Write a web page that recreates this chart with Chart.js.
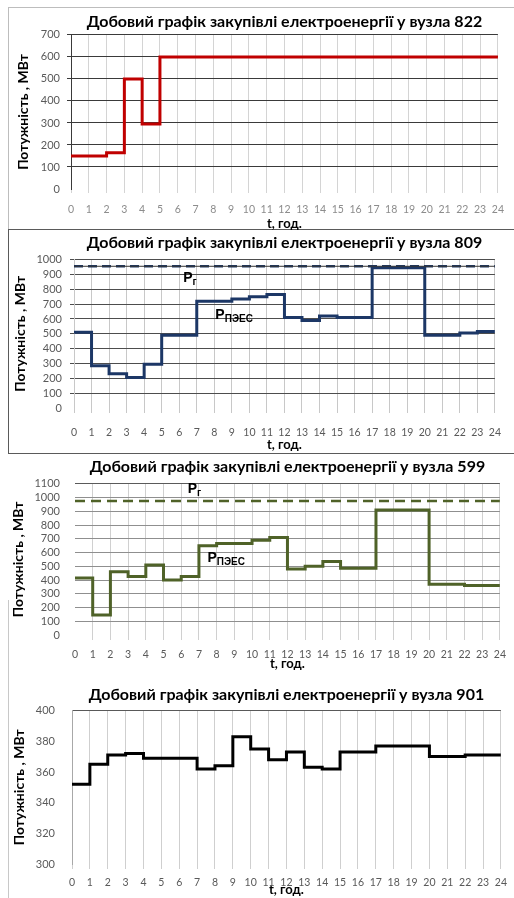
<!DOCTYPE html>
<html>
<head>
<meta charset="utf-8">
<script src="https://cdn.jsdelivr.net/npm/chart.js@4.4.1/dist/chart.umd.min.js"></script>
<style>
  body { margin: 0; background: #fff; width: 514px; height: 898px; position: relative; overflow: hidden; }
  canvas { position: absolute; left: 0; }
  .box { position: absolute; box-sizing: border-box; }
</style>
</head>
<body>
<div class="box" style="left:8px;top:7px;width:512px;height:223px;border:1px solid #bdbdbd;"></div>
<div class="box" style="left:8px;top:229px;width:512px;height:225px;border:1px solid #5a5a5a;"></div>
<div class="box" style="left:8px;top:600px;width:2px;height:298px;border-left:1px solid #c8c8c8;"></div>

<canvas id="c822" width="514" height="232" style="top:0px"></canvas>
<canvas id="c809" width="514" height="224" style="top:229px"></canvas>
<canvas id="c599" width="514" height="218" style="top:455px"></canvas>
<canvas id="c901" width="514" height="223" style="top:675px"></canvas>

<script>
// hours on the x axis, values are for each hour interval [h, h+1)
var hours = [0, 1, 2, 3, 4, 5, 6, 7, 8, 9, 10, 11, 12, 13, 14, 15, 16, 17, 18, 19, 20, 21, 22, 23, 24];

var v822 = [150, 150, 165, 500, 295, 600, 600, 600, 600, 600, 600, 600,
            600, 600, 600, 600, 600, 600, 600, 600, 600, 600, 600, 600];

var v809 = [510, 285, 230, 205, 295, 490, 490, 720, 720, 735, 750, 765,
            610, 590, 620, 610, 610, 945, 945, 945, 490, 490, 505, 515];
var pr809 = 955;

var v599 = [415, 145, 460, 425, 510, 400, 425, 650, 665, 665, 690, 710,
            480, 500, 535, 485, 485, 910, 910, 910, 370, 370, 360, 360];
var pr599 = 975;

var v901 = [352, 365, 371, 372, 369, 369, 369, 362, 364, 383, 375, 368,
            373, 363, 362, 373, 373, 377, 377, 377, 370, 370, 371, 371];

var yTitle = "Потужність , МВт";
var xTitle = "t, год.";

Chart.defaults.font.family = "Lato, 'Liberation Sans', sans-serif";
Chart.defaults.animation = false;

function stepPoints(vals) {
  var pts = vals.map(function (v, i) {
    return { x: hours[i], y: v };
  });
  pts.push({ x: hours[hours.length - 1], y: vals[vals.length - 1] });
  return pts;
}

function flatLine(v) {
  return [{ x: hours[0], y: v }, { x: hours[hours.length - 1], y: v }];
}

// P labels drawn next to the lines
function pLabels(items) {
  return {
    id: "plabels",
    afterDatasetsDraw: function (chart) {
      var ctx = chart.ctx;
      items.forEach(function (it) {
        var x = chart.scales.x.getPixelForValue(it.x);
        var y = chart.scales.y.getPixelForValue(it.y);
        ctx.save();
        ctx.fillStyle = "#000";
        ctx.textBaseline = "middle";
        ctx.font = "bold 14px 'Liberation Sans', Arial, sans-serif";
        ctx.fillText("P", x, y);
        var w = ctx.measureText("P").width;
        ctx.font = "bold 10px 'Liberation Sans', Arial, sans-serif";
        ctx.fillText(it.sub, x + w, y + 4);
        ctx.restore();
      });
    },
  };
}

function makeChart(id, g) {
  var ctx = document.getElementById(id).getContext("2d");
  return new Chart(ctx, {
    type: "line",
    data: { datasets: g.datasets },
    plugins: g.plugins || [],
    options: {
      responsive: false,
      layout: { padding: { left: 0, right: g.padRight, top: 0, bottom: 0 } },
      elements: { point: { radius: 0 }, line: { tension: 0 } },
      plugins: {
        legend: { display: false },
        tooltip: { enabled: false },
        title: {
          display: true,
          text: g.title,
          fullSize: false,
          color: "#000",
          font: { size: 16, weight: "bold", lineHeight: 1.2 },
          padding: g.titlePad,
        },
      },
      scales: {
        x: {
          type: "linear",
          min: 0,
          max: 24,
          afterFit: function (s) { s.height = g.xH; },
          ticks: {
            stepSize: 1,
            autoSkip: false,
            maxRotation: 0,
            color: g.xTickColor || "#595959",
            font: { size: 10.5 },
            padding: g.xTickPad,
          },
          grid: {
            color: g.xGrid,
            tickLength: g.xTickLen,
          },
          border: { display: false },
          title: {
            display: true,
            text: xTitle,
            color: "#000",
            font: { size: 13, weight: "bold" },
            padding: { top: 0, bottom: g.xTitlePadBottom },
          },
        },
        y: {
          min: g.yMin,
          max: g.yMax,
          afterFit: function (s) { s.width = g.yW; },
          ticks: {
            stepSize: g.yStep,
            autoSkip: false,
            color: "#595959",
            font: { size: 11 },
            padding: g.yTickPad,
            callback: function (v) { return String(v); },
          },
          grid: {
            color: g.yGrid,
            drawTicks: g.yTickLen > 0,
            tickLength: g.yTickLen,
          },
          border: g.yBorder,
          title: {
            display: true,
            text: yTitle,
            color: "#000",
            font: { size: 14, weight: "bold" },
            padding: { top: g.yTitlePad, bottom: 0 },
          },
        },
      },
    },
  });
}

window.addEventListener("DOMContentLoaded", function () {
  makeChart("c822", {
    title: "Добовий графік закупівлі електроенергії у вузла 822",
    datasets: [
      { data: stepPoints(v822), stepped: "before", borderColor: "#c00000", borderWidth: 3 },
    ],
    padRight: 7,
    titlePad: { top: 12.7, bottom: 3 },
    xH: 43, xTickPad: 10, xTickLen: 4, xTitlePadBottom: 0,
    xTickColor: "#8c8c8c",
    xGrid: "#d4d4d4",
    yMin: 0, yMax: 700, yStep: 100, yW: 71, yTickPad: 7, yTickLen: 4, yTitlePad: 14.6,
    yGrid: function (c) { return c.tick.value === 0 ? "rgba(0,0,0,0)" : "#3a3a3a"; },
    yBorder: { display: true, color: "#3a3a3a" },
  });

  makeChart("c809", {
    title: "Добовий графік закупівлі електроенергії у вузла 809",
    datasets: [
      { data: flatLine(pr809), borderColor: "#333", borderWidth: 1 },
      { data: flatLine(pr809), borderColor: "#1f3864", borderWidth: 2.5, borderDash: [9, 5] },
      { data: stepPoints(v809), stepped: "before", borderColor: "#1c3766", borderWidth: 3 },
    ],
    plugins: [pLabels([{ x: 6.23, y: 877, sub: "г" }, { x: 8.06, y: 627, sub: "ПЭЕС" }])],
    padRight: 5,
    titlePad: { top: 4.7, bottom: 6.7 },
    xH: 45, xTickPad: 13, xTickLen: 5, xTitlePadBottom: 0,
    xGrid: "#c8c8c8",
    yMin: 0, yMax: 1000, yStep: 100, yW: 74, yTickPad: 8, yTickLen: 4, yTitlePad: 11.6,
    yGrid: function (c) { return c.tick.value === 0 ? "rgba(0,0,0,0)" : "#4d4d4d"; },
    yBorder: { display: true, color: "#c8c8c8" },
  });

  makeChart("c599", {
    title: "Добовий графік закупівлі електроенергії у вузла 599",
    datasets: [
      { data: flatLine(pr599), borderColor: "#4f6228", borderWidth: 2.5, borderDash: [10, 6] },
      { data: stepPoints(v599), stepped: "before", borderColor: "#4f6228", borderWidth: 3 },
    ],
    plugins: [pLabels([{ x: 6.37, y: 1061, sub: "г" }, { x: 7.48, y: 558, sub: "ПЭЕС" }])],
    padRight: 6,
    titlePad: { top: 2.3, bottom: 7.3 },
    xH: 38, xTickPad: 8, xTickLen: 5, xTitlePadBottom: 1,
    xGrid: function (c) { return c.tick.value === 0 ? "rgba(0,0,0,0)" : "#d0d0d0"; },
    yMin: 0, yMax: 1100, yStep: 100, yW: 75, yTickPad: 15, yTickLen: 0, yTitlePad: 9.6,
    yGrid: function (c) {
      if (c.tick.value === 0) return "rgba(0,0,0,0)";
      return c.tick.value === 1100 ? "#5a5a5a" : "#8f8f8f";
    },
    yBorder: { display: false },
  });

  makeChart("c901", {
    title: "Добовий графік закупівлі електроенергії у вузла 901",
    datasets: [
      { data: stepPoints(v901), stepped: "before", borderColor: "#000", borderWidth: 3 },
    ],
    padRight: 6,
    titlePad: { top: 10.7, bottom: 5.7 },
    xH: 34, xTickPad: 7, xTickLen: 5, xTitlePadBottom: 0,
    xGrid: "#cfcfcf",
    yMin: 300, yMax: 400, yStep: 20, yW: 72, yTickPad: 17, yTickLen: 0, yTitlePad: 10.6,
    yGrid: function (c) { return c.tick.value === 400 ? "#595959" : "rgba(0,0,0,0)"; },
    yBorder: { display: true, color: "#a8a8a8" },
  });
});
</script>
</body>
</html>
